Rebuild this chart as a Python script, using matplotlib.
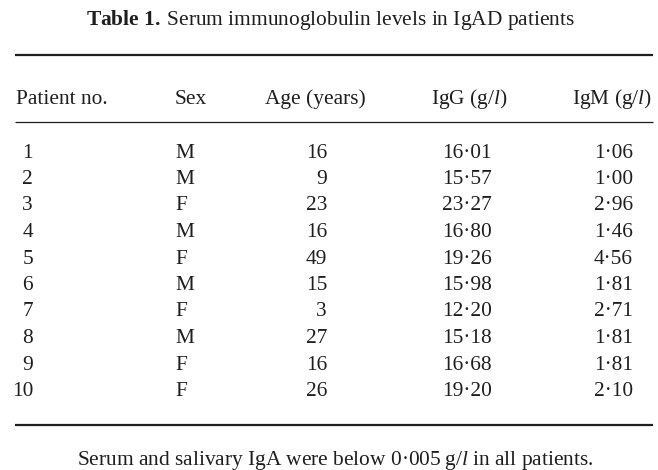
import matplotlib
matplotlib.use("Agg")
import matplotlib.pyplot as plt

# table content
title_bold = "Table 1."
title_rest = "Serum immunoglobulin levels in IgAD patients"
headers = ["Patient no.", "Sex", "Age (years)", "IgG (g/$l$)", "IgM (g/$l$)"]
patient_no = [1, 2, 3, 4, 5, 6, 7, 8, 9, 10]
sex = ["M", "M", "F", "M", "F", "M", "F", "M", "F", "F"]
age = [16, 9, 23, 16, 49, 15, 3, 27, 16, 26]
igg = [16.01, 15.57, 23.27, 16.80, 19.26, 15.98, 12.20, 15.18, 16.68, 19.20]
igm = [1.06, 1.00, 2.96, 1.46, 4.56, 1.81, 2.71, 1.81, 1.81, 2.10]
footnote = "Serum and salivary IgA were below 0·005\u2009g/$l$ in all patients."

plt.rcParams['font.family'] = ['Liberation Serif', 'DejaVu Serif']
plt.rcParams['mathtext.fontset'] = 'custom'
plt.rcParams['mathtext.rm'] = 'Liberation Serif'
plt.rcParams['mathtext.it'] = 'Liberation Serif:italic'
plt.rcParams['mathtext.bf'] = 'Liberation Serif:bold'

def dot(v):
    # journal style decimal point
    return ("%.2f" % v).replace(".", "·")

fig = plt.figure(figsize=(6.58, 4.70), dpi=100)
ax = fig.add_axes([0, 0, 1, 1])
ax.set_xlim(0, 658)
ax.set_ylim(470, 0)
ax.axis("off")

fs = 15.4
col = "#1e1e1e"

ax.text(330, 20, r"$\mathbf{" + title_bold.replace(" ", r"\ ") + r"}\;$" + title_rest,
        ha="center", va="center", fontsize=fs, color=col)

ax.hlines(55, 15, 653, color=col, lw=1.6)
ax.hlines(122, 15, 653, color=col, lw=0.9)
ax.hlines(425, 15, 653, color=col, lw=1.6)

hy = 99
ax.text(16, hy, headers[0], ha="left", va="center", fontsize=fs, color=col)
ax.text(175, hy, headers[1], ha="left", va="center", fontsize=fs, color=col)
ax.text(366, hy, headers[2], ha="right", va="center", fontsize=fs, color=col)
ax.text(508, hy, headers[3], ha="right", va="center", fontsize=fs, color=col)
ax.text(652, hy, headers[4], ha="right", va="center", fontsize=fs, color=col)

y0 = 153
dy = 26.5
for i in range(len(patient_no)):
    y = y0 + i * dy
    ax.text(33, y, str(patient_no[i]), ha="right", va="center", fontsize=fs, color=col)
    ax.text(175, y, sex[i], ha="left", va="center", fontsize=fs, color=col)
    ax.text(327, y, str(age[i]), ha="right", va="center", fontsize=fs, color=col)
    ax.text(492, y, dot(igg[i]), ha="right", va="center", fontsize=fs, color=col)
    ax.text(633, y, dot(igm[i]), ha="right", va="center", fontsize=fs, color=col)

ax.text(335, 460, footnote, ha="center", va="center", fontsize=fs, color=col)

fig.savefig("out.png", dpi=100)
